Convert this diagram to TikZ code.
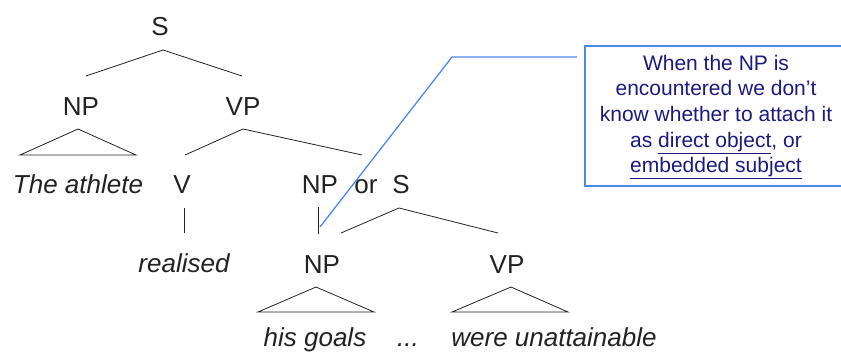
\documentclass[tikz,border=0pt]{standalone}
\usepackage{fontspec}
\setmainfont{Liberation Sans}
\definecolor{ink}{HTML}{222222}
\definecolor{notetext}{HTML}{1A1A80}
\definecolor{noteblue}{HTML}{4F85EE}
\begin{document}
\begin{tikzpicture}[x=1pt,y=-1pt,
  cat/.style={anchor=base,inner sep=0pt,font=\fontsize{26}{30}\selectfont,text=ink},
  word/.style={cat,font=\fontsize{26}{30}\selectfont\itshape},
  branch/.style={draw=ink,line width=0.8pt},
  roof/.style={draw=ink,line width=0.8pt,line join=miter},
  note/.style={align=center,text=notetext,
    font=\fontsize{21}{25.7}\selectfont,inner sep=0pt},
  frame/.style={draw=noteblue,line width=1.3pt},
  pointer/.style={draw=noteblue,line width=1.3pt}]
\useasboundingbox (0,0) rectangle (841,356);

% categories and words
\node[cat] (s) at (160,35) {S};
\node[cat] (np1) at (81,115) {NP};
\node[cat] (vp1) at (243,115) {VP};
\node[word] (athlete) at (78,193) {The athlete};
\node[cat] (v) at (182,193) {V};
\node[cat] (np2) at (320,193) {NP};
\node[cat] (or) at (366,193) {or};
\node[cat] (s2) at (401,193) {S};
\node[word] (realised) at (184,272) {realised};
\node[cat] (np3) at (322,273) {NP};
\node[cat] (vp2) at (507,273) {VP};
\node[word] (goals) at (315,346) {his goals};
\node[word] (dots) at (408,346) {...};
\node[word] (unatt) at (554,346) {were unattainable};

% branch end points
\coordinate (sTop) at (163,50);
\coordinate (sL) at (86,76);
\coordinate (sR) at (242,76);
\coordinate (vpTop) at (243,129);
\coordinate (vpL) at (185,155);
\coordinate (vpR) at (362,155);
\coordinate (vTop) at (184,208);
\coordinate (vBot) at (184,233);
\coordinate (npTop) at (318,207);
\coordinate (npBot) at (318,234);
\coordinate (s2Top) at (399,208);
\coordinate (s2L) at (341,233);
\coordinate (s2R) at (498,233);

\draw[branch] (sL) -- (sTop) -- (sR);
\draw[branch] (vpL) -- (vpTop) -- (vpR);
\draw[branch] (vTop) -- (vBot);
\draw[branch] (npTop) -- (npBot);
\draw[branch] (s2L) -- (s2Top) -- (s2R);

% roofs over unanalysed phrases
\draw[roof] (78,129) -- (20,155) -- (136,155) -- cycle;
\draw[roof] (316,287) -- (258,312) -- (374,312) -- cycle;
\draw[roof] (511,287) -- (452,312) -- (568,312) -- cycle;

% explanatory note; its frame runs on past the right edge of the page
\draw[frame] (585,46) rectangle (860,186);
\node[note] (box) at (716,117) {When the NP is\\encountered we don't\\know whether to attach it\\as \underline{direct object}, or\\\underline{embedded subject}};
\coordinate (ptrStart) at (577,57);
\coordinate (ptrBend) at (452,57);
\coordinate (ptrTip) at (320,227);
\draw[pointer] (ptrStart) -- (ptrBend) -- (ptrTip);
\end{tikzpicture}
\end{document}
